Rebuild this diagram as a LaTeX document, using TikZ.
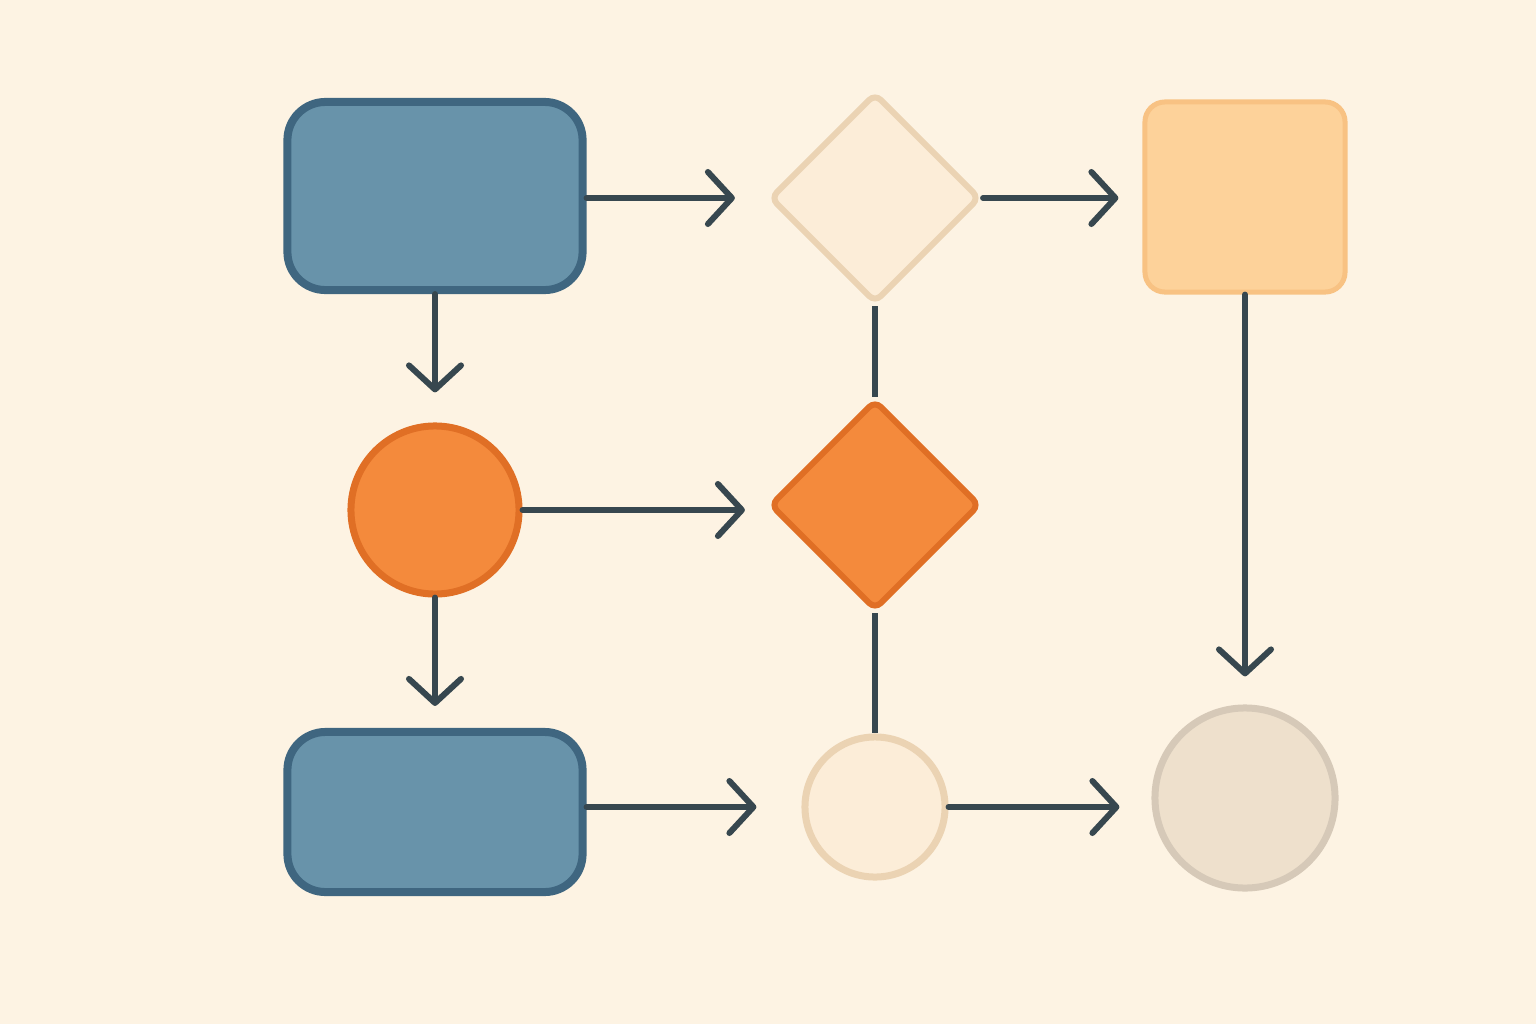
\documentclass[tikz,border=0pt]{standalone}
\usepackage{tikz}
\usetikzlibrary{shapes.geometric,arrows.meta}

\definecolor{bgCream}{HTML}{FDF3E3}
\definecolor{lineDark}{HTML}{37474F}
\definecolor{blueFill}{HTML}{6893AA}
\definecolor{blueEdge}{HTML}{3F6680}
\definecolor{orangeFill}{HTML}{F48A3C}
\definecolor{orangeEdge}{HTML}{E06F25}
\definecolor{peachFill}{HTML}{FDD29A}
\definecolor{peachEdge}{HTML}{F8C283}
\definecolor{creamFill}{HTML}{FCEDD8}
\definecolor{creamEdge}{HTML}{EBD3B3}
\definecolor{greyFill}{HTML}{EEE0CC}
\definecolor{greyEdge}{HTML}{D6C9B8}

\tikzset{
  box/.style={draw=blueEdge,fill=blueFill,line width=0.08cm,rounded corners=0.38cm,
              minimum width=2.95cm,inner sep=0pt},
  dia/.style={diamond,line width=0.06cm,minimum width=2.1cm,minimum height=2.1cm,
              inner sep=0pt,rounded corners=0.08cm},
  ball/.style={circle,line width=0.07cm,inner sep=0pt},
  flow/.style={draw=lineDark,line width=0.06cm,line cap=round,
               -{Straight Barb[length=0.24cm,width=0.52cm,line width=0.06cm,round]}},
  link/.style={draw=lineDark,line width=0.06cm},
}

\begin{document}
\begin{tikzpicture}[x=0.01cm,y=-0.01cm]
\fill[bgCream] (0,0) rectangle (1536,1024);

% first column
\node[box,minimum height=1.88cm] (topBox) at (435,196) {};
\node[ball,draw=orangeEdge,fill=orangeFill,minimum size=1.68cm] (midBall) at (435,510) {};
\node[box,minimum height=1.60cm] (lowBox) at (435,812) {};

% second column
\node[dia,draw=creamEdge,fill=creamFill] (topDia) at (875,198) {};
\node[dia,draw=orangeEdge,fill=orangeFill] (midDia) at (875,505) {};
\node[ball,draw=creamEdge,fill=creamFill,minimum size=1.40cm] (lowBall) at (875,807) {};

% third column
\node[draw=peachEdge,fill=peachFill,line width=0.05cm,rounded corners=0.2cm,
      minimum width=2.0cm,minimum height=1.9cm] (topSq) at (1245,197) {};
\node[ball,draw=greyEdge,fill=greyFill,minimum size=1.80cm] (lowGrey) at (1245,798) {};

% arrows
\draw[flow,shorten >=0.32cm] (topBox.east |- topDia) -- (topDia.west);
\draw[flow,shorten >=0.24cm] (topDia.east) -- (topSq.west |- topDia.east);
\draw[flow,shorten >=0.30cm] (topBox) -- (midBall);
\draw[flow,shorten >=0.22cm] (midBall.east) -- (midDia.west |- midBall.east);
\draw[flow,shorten >=0.22cm] (midBall) -- (lowBox);
\draw[flow,shorten >=0.45cm] (lowBox.east |- lowBall) -- (lowBall.west);
\draw[flow,shorten >=0.32cm] (lowBall.east) -- (lowGrey.west |- lowBall.east);
\draw[flow,shorten >=0.28cm] (topSq) -- (lowGrey);

% plain links
\draw[link] (topDia) -- (midDia);
\draw[link] (midDia) -- (lowBall);
\end{tikzpicture}
\end{document}
